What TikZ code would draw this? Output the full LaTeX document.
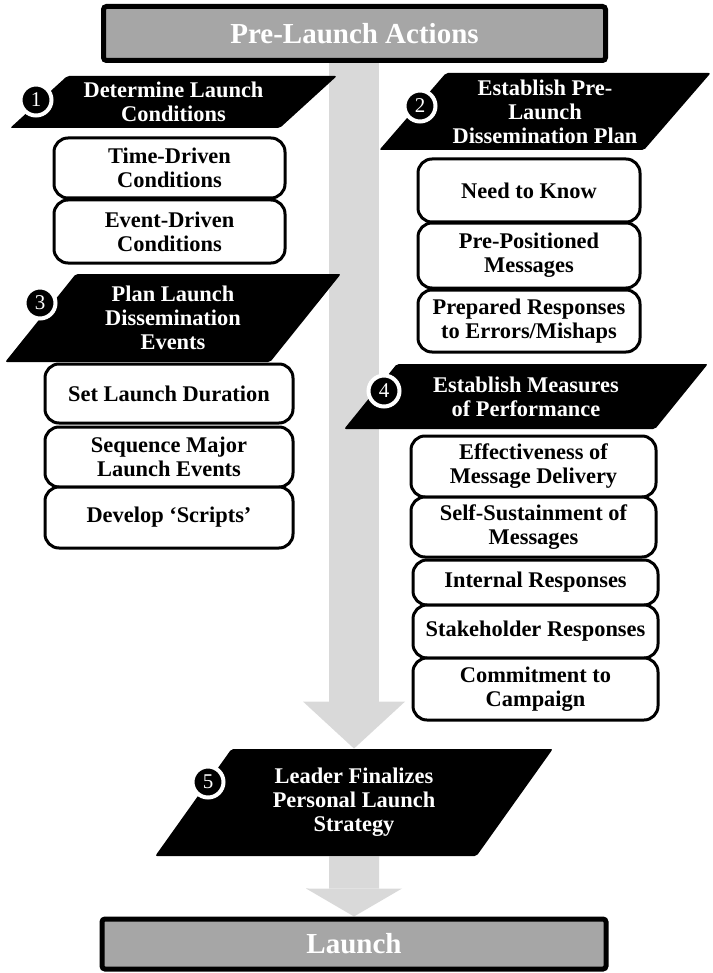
\documentclass[tikz,border=0pt]{standalone}
\usepackage{fontspec}
\setmainfont{Liberation Serif}
\usetikzlibrary{shapes.geometric,arrows.meta,backgrounds}
\definecolor{headgray}{HTML}{A6A6A6}
\definecolor{flowgray}{HTML}{D9D9D9}
\newcommand{\boxfont}{\fontsize{11.2}{12}\selectfont\bfseries}
\newcommand{\headfont}{\fontsize{14.5}{16}\selectfont\bfseries}
\newcommand{\numfont}{\fontsize{10.5}{12}\selectfont}

\tikzset{
  headbox/.style={draw=black, line width=2.5pt, fill=headgray, text=white, rounded corners=1.5pt, font=\headfont},
  phase/.style={trapezium, trapezium stretches=true, fill=black, text=white, align=center, font=\boxfont, inner sep=0pt, rounded corners=1pt},
  stepbox/.style={draw=black, line width=1.5pt, fill=white, rounded corners=7pt, align=center, font=\boxfont, inner sep=2pt},
  numdot/.style={circle, fill=black, draw=white, line width=2pt, text=white, minimum size=15.5pt, inner sep=0pt, font=\numfont},
  flow/.style={draw=flowgray, line width=25pt}
}

\begin{document}
\begin{tikzpicture}[x=0.5pt, y=-0.5pt]
    \useasboundingbox (0,0) rectangle (712,973);

    % Kopf und Ende
    \node[headbox, minimum width=251pt, minimum height=27pt] (pre) at (354.5,33.5) {Pre-Launch Actions};
    \node[headbox, minimum width=252pt, minimum height=25pt] (launch) at (354,944) {Launch};

    % Schritt 1
    \node[phase, trapezium left angle=39.5, trapezium right angle=140.5, minimum width=163.5pt, minimum height=26pt] (p1) at (173.5,102) {Determine Launch\\Conditions};
    \node[stepbox, minimum width=115.5pt, minimum height=30pt] (td) at (169.5,168) {Time-Driven\\Conditions};
    \node[stepbox, minimum width=115.5pt, minimum height=31.5pt] (ed) at (169.5,231.5) {Event-Driven\\Conditions};
    \node[numdot] (n1) at (36,100) {1};

    % Schritt 2
    \node[phase, trapezium left angle=45.7, trapezium right angle=134.3, minimum width=166pt, minimum height=38.5pt] (p2) at (545,111.5) {Establish Pre-\\Launch\\Dissemination Plan};
    \node[stepbox, minimum width=111pt, minimum height=31.5pt] (nk) at (529,190.5) {Need to Know};
    \node[stepbox, minimum width=111pt, minimum height=32.5pt] (pp) at (529,255.5) {Pre-Positioned\\Messages};
    \node[stepbox, minimum width=111pt, minimum height=31pt] (pr) at (529,321) {Prepared Responses\\to Errors/Mishaps};
    \node[numdot] (n2) at (420,106) {2};

    % Schritt 3
    \node[phase, trapezium left angle=52.3, trapezium right angle=127.7, minimum width=168pt, minimum height=44pt] (p3) at (173,318) {Plan Launch\\Dissemination\\Events};
    \node[stepbox, minimum width=124pt, minimum height=29.5pt] (sd) at (169,393.5) {Set Launch Duration};
    \node[stepbox, minimum width=124pt, minimum height=30pt] (sm) at (169,457) {Sequence Major\\Launch Events};
    \node[stepbox, minimum width=124pt, minimum height=30.5pt] (ds) at (169,517.5) {Develop ‘Scripts’};
    \node[numdot] (n3) at (40,303) {3};

    % Schritt 4
    \node[phase, trapezium left angle=46.4, trapezium right angle=133.6, minimum width=182pt, minimum height=32.5pt] (p4) at (526,396.5) {Establish Measures\\of Performance};
    \node[stepbox, minimum width=122.5pt, minimum height=30.5pt] (em) at (533.5,466.5) {Effectiveness of\\Message Delivery};
    \node[stepbox, minimum width=122.5pt, minimum height=30pt] (ss) at (533.5,527) {Self-Sustainment of\\Messages};
    \node[stepbox, minimum width=122.5pt, minimum height=22.5pt] (ir) at (535.5,582.5) {Internal Responses};
    \node[stepbox, minimum width=122.5pt, minimum height=26.5pt] (sr) at (535.5,631.5) {Stakeholder Responses};
    \node[stepbox, minimum width=122.5pt, minimum height=31pt] (cc) at (535.5,689) {Commitment to\\Campaign};
    \node[numdot] (n4) at (384,391) {4};

    % Schritt 5
    \node[phase, trapezium left angle=53.6, trapezium right angle=126.4, minimum width=199pt, minimum height=53.5pt] (p5) at (354,802.5) {Leader Finalizes\\Personal Launch\\Strategy};
    \node[numdot] (n5) at (208,782) {5};

    % Pfeile
    \begin{pgfonlayer}{background}
        \draw[flow, -{Triangle[width=51pt, length=23.5pt, line width=0pt]}] (pre.south -| p5.north) -- (p5.north);
        \draw[flow, -{Triangle[width=48pt, length=14pt, line width=0pt]}] (p5.south) -- (launch.north);
    \end{pgfonlayer}
\end{tikzpicture}
\end{document}
